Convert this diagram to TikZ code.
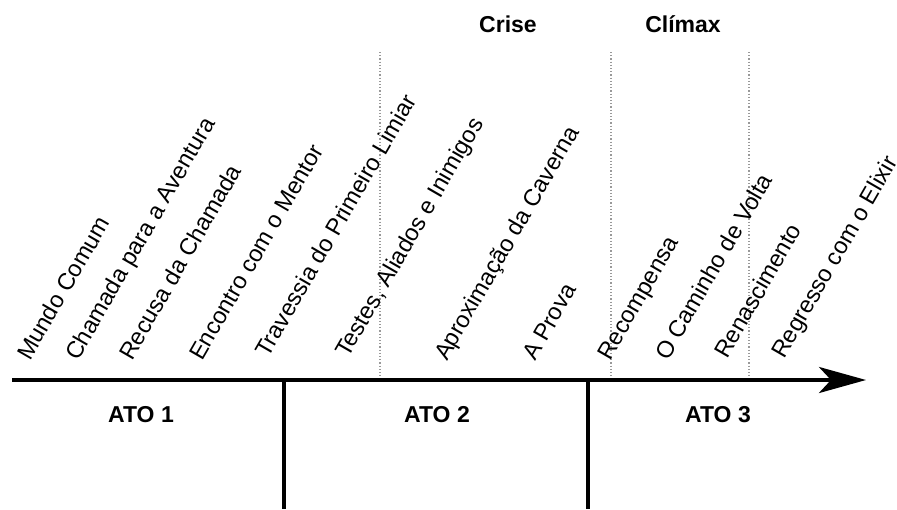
\documentclass[tikz,border=0pt]{standalone}
\usepackage{fontspec}
\setmainfont{Liberation Sans}
\usetikzlibrary{arrows.meta}

\begin{document}
\begin{tikzpicture}[x=1pt,y=1pt,
  stage/.style={anchor=base west, rotate=60, inner sep=0pt,
                font=\fontsize{23.5}{28}\selectfont},
  actlabel/.style={font=\bfseries\fontsize{23}{27}\selectfont, inner sep=0pt},
  peaklabel/.style={font=\bfseries\fontsize{23}{27}\selectfont, inner sep=0pt},
  axisline/.style={line width=4pt, -{Stealth[length=47pt, width=26pt, inset=12pt]}},
  actdivider/.style={line width=3.5pt},
  marker/.style={gray!80, dotted, line width=1.2pt}]

\fill[white] (0,0) rectangle (897,-509);
\useasboundingbox (0,0) rectangle (897,-509);

% timeline axis and act dividers
\coordinate (axisL) at (12,-380);
\coordinate (axisR) at (866,-380);
\coordinate (d1top) at (284,-380);
\coordinate (d1bot) at (284,-509);
\coordinate (d2top) at (588,-380);
\coordinate (d2bot) at (588,-509);

% dotted markers
\coordinate (m1top) at (380,-52);
\coordinate (m1bot) at (380,-378);
\coordinate (m2top) at (611,-52);
\coordinate (m2bot) at (611,-378);
\coordinate (m3top) at (749,-52);
\coordinate (m3bot) at (749,-378);

\draw[marker] (m1top) -- (m1bot);
\draw[marker] (m2top) -- (m2bot);
\draw[marker] (m3top) -- (m3bot);

\draw[actdivider] (d1top) -- (d1bot);
\draw[actdivider] (d2top) -- (d2bot);
\draw[axisline] (axisL) -- (axisR);

% stages of the journey
\node[stage] (s1)  at (30,-362)  {Mundo Comum};
\node[stage] (s2)  at (78,-362)  {Chamada para a Aventura};
\node[stage] (s3)  at (132,-362) {Recusa da Chamada};
\node[stage] (s4)  at (202,-362) {Encontro com o Mentor};
\node[stage] (s5)  at (268,-359) {Travessia do Primeiro Limiar};
\node[stage] (s6)  at (348,-359) {Testes, Aliados e Inimigos};
\node[stage] (s7)  at (447,-362) {Aproximação da Caverna};
\node[stage] (s8)  at (535,-362) {A Prova};
\node[stage] (s9)  at (610,-362) {Recompensa};
\node[stage] (s10) at (668,-362) {O Caminho de Volta};
\node[stage] (s11) at (727,-360) {Renascimento};
\node[stage] (s12) at (784,-360) {Regresso com o Elixir};

% peaks
\node[peaklabel] (crise)  at (508,-24) {Crise};
\node[peaklabel] (climax) at (683,-24) {Clímax};

% acts
\node[actlabel] (ato1) at (141,-415) {ATO 1};
\node[actlabel] (ato2) at (437,-415) {ATO 2};
\node[actlabel] (ato3) at (718,-415) {ATO 3};
\end{tikzpicture}
\end{document}
